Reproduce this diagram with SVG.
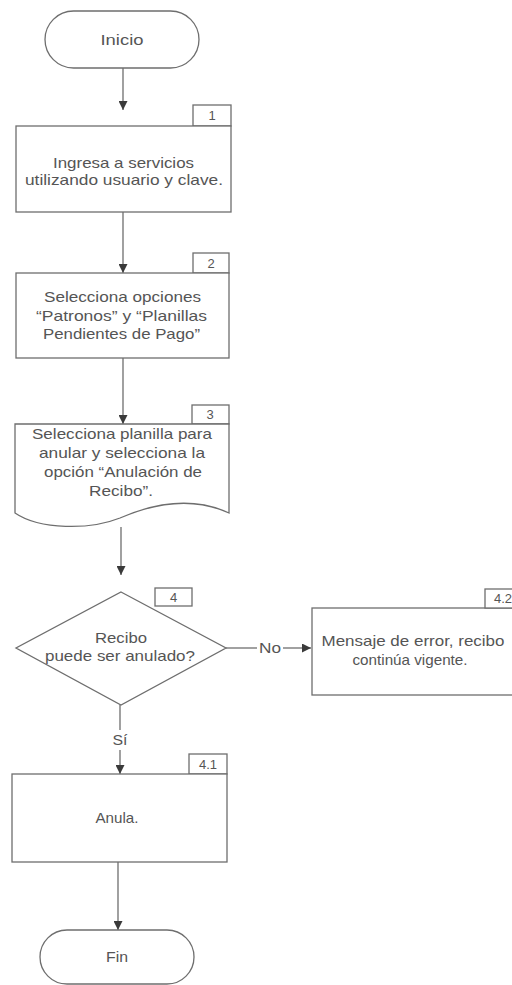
<svg xmlns="http://www.w3.org/2000/svg" width="512" height="985" viewBox="0 0 512 985">
<style>
.s{fill:#fff;stroke:#6e6e6e;stroke-width:1.3}
.c{fill:none;stroke:#6e6e6e;stroke-width:1.3}
.t{font-family:"Liberation Sans",Arial,sans-serif;font-size:14.5px;fill:#555;text-anchor:middle}
.n{font-family:"Liberation Sans",Arial,sans-serif;font-size:13px;fill:#555;text-anchor:middle}
</style>
<defs>
<marker id="ah" markerUnits="userSpaceOnUse" markerWidth="9" markerHeight="9" refX="9" refY="4.5" orient="auto">
<path d="M0,0 L9,4.5 L0,9 z" fill="#3a3a3a"/>
</marker>
</defs>
<rect width="512" height="985" fill="#fff"/>
<g id="connectors">
<line class="c" x1="123" y1="68" x2="123" y2="110" marker-end="url(#ah)"/>
<line class="c" x1="123" y1="212" x2="123" y2="273" marker-end="url(#ah)"/>
<line class="c" x1="123" y1="358" x2="123" y2="424" marker-end="url(#ah)"/>
<line class="c" x1="121" y1="527" x2="121" y2="575" marker-end="url(#ah)"/>
<line class="c" x1="226" y1="648" x2="257" y2="648"/>
<line class="c" x1="283" y1="648" x2="311" y2="648" marker-end="url(#ah)"/>
<text class="t" x="270" y="653" textLength="22" lengthAdjust="spacingAndGlyphs">No</text>
<line class="c" x1="120" y1="705" x2="120" y2="730"/>
<line class="c" x1="120" y1="750" x2="120" y2="774" marker-end="url(#ah)"/>
<text class="t" x="120" y="745" textLength="15" lengthAdjust="spacingAndGlyphs">Sí</text>
<line class="c" x1="118" y1="862" x2="118" y2="930" marker-end="url(#ah)"/>
</g>
<g id="inicio">
<rect class="s" x="45" y="11" width="154" height="57" rx="28.5"/>
<text class="t" x="122" y="45" textLength="43" lengthAdjust="spacingAndGlyphs">Inicio</text>
</g>
<g id="step1">
<rect class="s" x="193" y="105" width="38" height="21"/>
<text class="n" x="212" y="120">1</text>
<rect class="s" x="16" y="126" width="215" height="86"/>
<text class="t" x="123.5" y="168" textLength="141" lengthAdjust="spacingAndGlyphs">Ingresa a servicios</text>
<text class="t" x="124" y="185" textLength="198" lengthAdjust="spacingAndGlyphs">utilizando usuario y clave.</text>
</g>
<g id="step2">
<rect class="s" x="193" y="253" width="36" height="20"/>
<text class="n" x="211" y="268">2</text>
<rect class="s" x="16" y="273" width="213" height="85"/>
<text class="t" x="122.5" y="302" textLength="157" lengthAdjust="spacingAndGlyphs">Selecciona opciones</text>
<text class="t" x="121.5" y="321" textLength="171" lengthAdjust="spacingAndGlyphs">“Patronos” y “Planillas</text>
<text class="t" x="121.5" y="339" textLength="157" lengthAdjust="spacingAndGlyphs">Pendientes de Pago”</text>
</g>
<g id="step3">
<rect class="s" x="192" y="405" width="37" height="19"/>
<text class="n" x="210" y="419">3</text>
<path class="s" d="M15,424 L229,424 L229,513 C190,495 150,505 120,518 C90,530 40,530 15,513 Z"/>
<text class="t" x="122" y="439" textLength="180" lengthAdjust="spacingAndGlyphs">Selecciona planilla para</text>
<text class="t" x="122" y="458" textLength="166" lengthAdjust="spacingAndGlyphs">anular y selecciona la</text>
<text class="t" x="123" y="477" textLength="158" lengthAdjust="spacingAndGlyphs">opción “Anulación de</text>
<text class="t" x="121" y="496" textLength="64" lengthAdjust="spacingAndGlyphs">Recibo”.</text>
</g>
<g id="step4">
<path class="s" d="M121,592 L226,648 L121,705 L16,648 Z"/>
<rect class="s" x="155" y="588" width="37" height="18"/>
<text class="n" x="173.5" y="602">4</text>
<text class="t" x="121" y="643" textLength="52" lengthAdjust="spacingAndGlyphs">Recibo</text>
<text class="t" x="120" y="661" textLength="150" lengthAdjust="spacingAndGlyphs">puede ser anulado?</text>
</g>
<g id="step42">
<rect class="s" x="312" y="608" width="210" height="87"/>
<rect class="s" x="485" y="589" width="37" height="19"/>
<text class="n" x="503" y="603">4.2</text>
<text class="t" x="413" y="646" textLength="183" lengthAdjust="spacingAndGlyphs">Mensaje de error, recibo</text>
<text class="t" x="410" y="665" textLength="115" lengthAdjust="spacingAndGlyphs">continúa vigente.</text>
</g>
<g id="step41">
<rect class="s" x="189" y="754" width="38" height="20"/>
<text class="n" x="208" y="769">4.1</text>
<rect class="s" x="12" y="774" width="215" height="88"/>
<text class="t" x="117" y="823" textLength="43" lengthAdjust="spacingAndGlyphs">Anula.</text>
</g>
<g id="fin">
<rect class="s" x="40" y="930" width="154" height="54" rx="27"/>
<text class="t" x="117" y="962" textLength="22" lengthAdjust="spacingAndGlyphs">Fin</text>
</g>
</svg>
